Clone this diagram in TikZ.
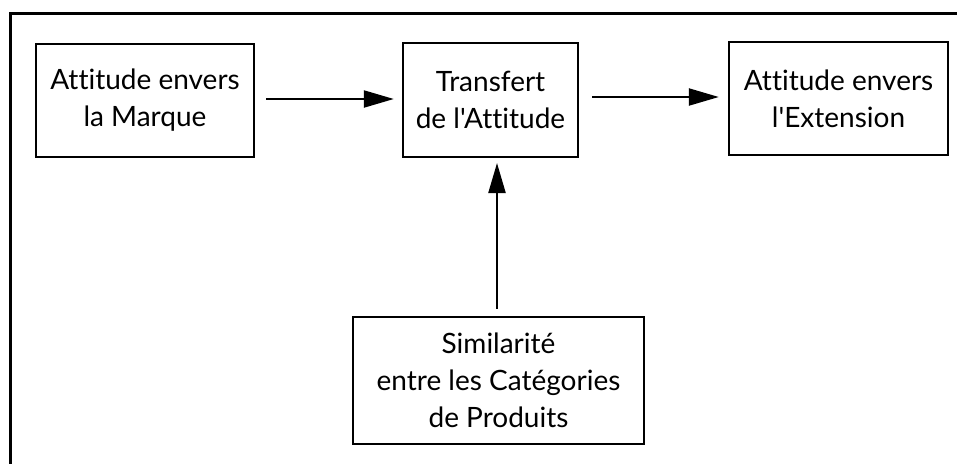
\documentclass[tikz,border=0pt]{standalone}
\usepackage{fontspec}
\setmainfont{Lato}[Ligatures={TeXOff,CommonOff}]
\usetikzlibrary{arrows.meta}
\begin{document}
\begin{tikzpicture}[x=1pt,y=-1pt,
  box/.style={draw, line width=2.4pt, inner sep=0pt, align=center,
    font=\fontsize{28}{37}\selectfont},
  link/.style={line width=2.2pt, -{Triangle[length=30pt,width=17pt]}}]
  \useasboundingbox (0,0) rectangle (957,464);
  % open frame: top and left edges only
  \draw[line width=3pt] (957,13.5) -- (10,13.5) -- (10,464);

  \node[box, minimum width=218pt, minimum height=113pt] (marque) at (145,100.5)
    {Attitude envers\\la Marque};
  \node[box, minimum width=175pt, minimum height=114pt] (transfert) at (490.5,100)
    {Transfert\\de l'Attitude};
  \node[box, minimum width=219pt, minimum height=113pt] (extension) at (838.5,98.5)
    {Attitude envers\\l'Extension};
  \node[box, minimum width=291pt, minimum height=127pt] (similarite) at (498.5,380.5)
    {Similarité\\entre les Catégories\\de Produits};

  \coordinate (simtop) at ([xshift=-1.5pt,yshift=7pt]similarite.north);
  \draw[link] ([xshift=11pt]marque.east |- 0,99) -- ([xshift=-8pt]transfert.west |- 0,99);
  \draw[link] ([xshift=13pt]transfert.east |- 0,97) -- ([xshift=-9pt]extension.west |- 0,97);
  \draw[link] (simtop) -- (simtop |- 0,163);
\end{tikzpicture}
\end{document}
